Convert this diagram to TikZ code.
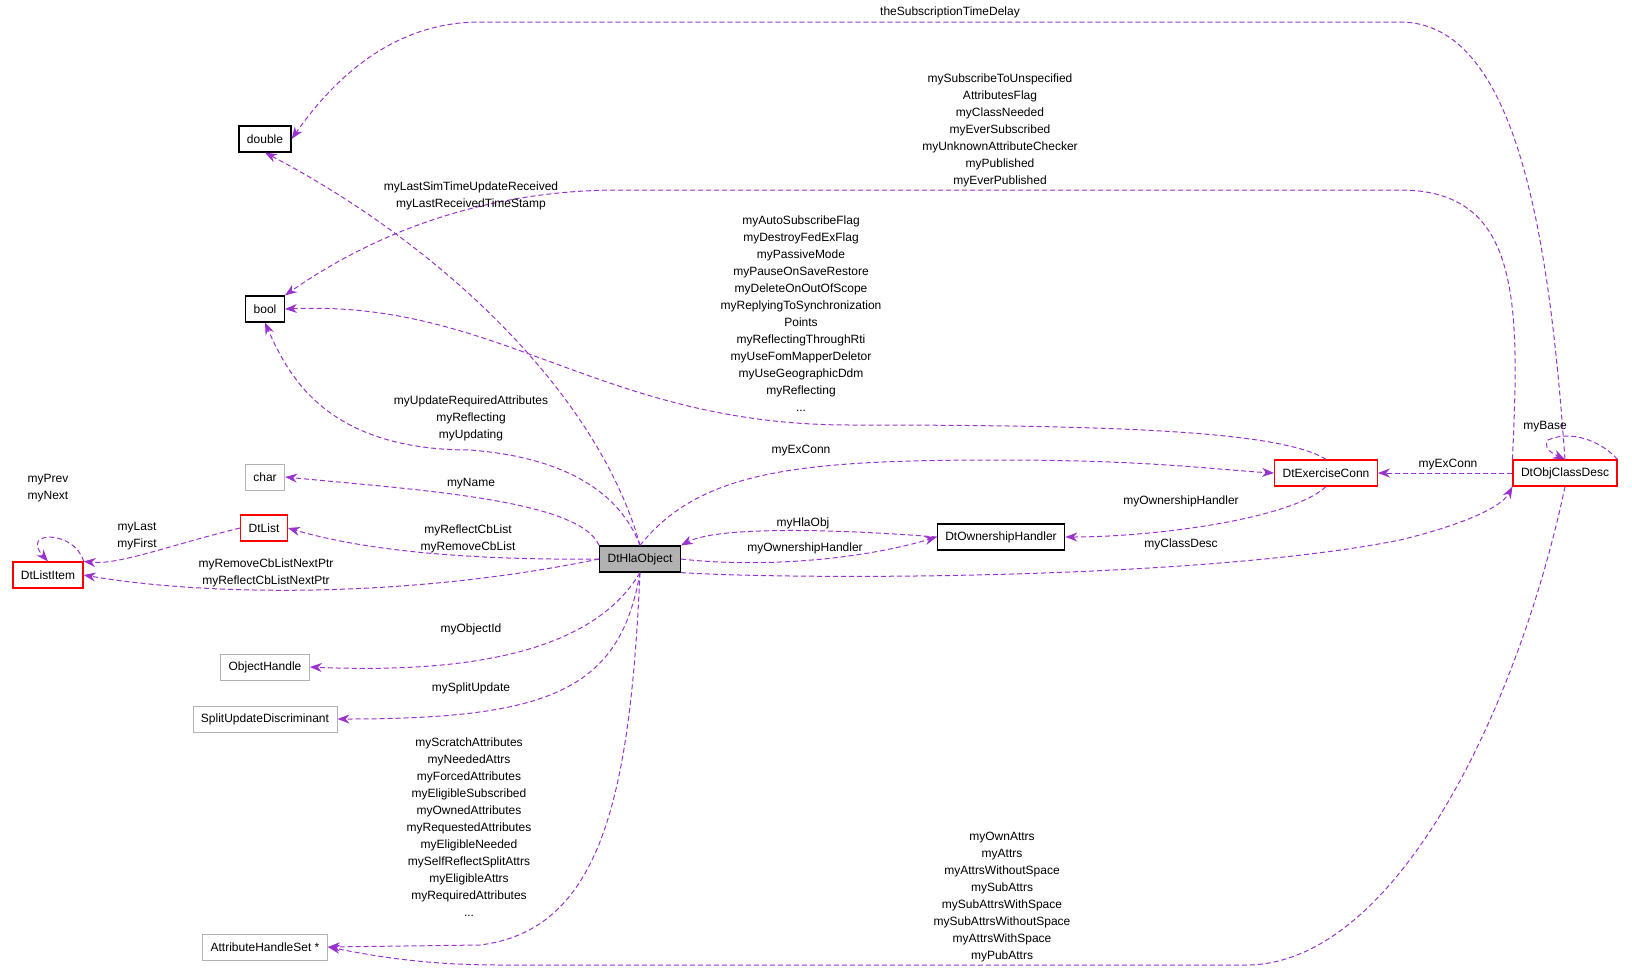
\documentclass[tikz,border=0pt]{standalone}
\usepackage{fontspec}
\setmainfont{Liberation Sans}
\usepackage{xcolor}
\usetikzlibrary{arrows.meta,positioning,calc}
\definecolor{edgepurple}{HTML}{9A32CD}
\tikzset{
  cls/.style={draw=black, line width=1.2pt, inner xsep=8pt, inner ysep=3pt, minimum height=26pt, font=\fontsize{12}{14}\selectfont},
  ext/.style={cls, draw=gray!60, line width=0.9pt},
  redcls/.style={cls, draw=red},
  rel/.style={draw=edgepurple, line width=1pt, dash pattern=on 5pt off 3pt, -{Stealth[length=12pt,width=9pt]}},
  lab/.style={align=center, font=\fontsize{12}{17}\selectfont}
}
\begin{document}
\begin{tikzpicture}[x=1pt,y=-1pt]
    \useasboundingbox (0,0) rectangle (1632,972);
    % classes
    \node[cls] (dbl) at (265,139) {double};
    \node[cls] (bool) at (265,309) {bool};
    \node[ext] (chr) at (265,477) {char};
    \node[redcls] (list) at (264,528) {DtList};
    \node[redcls] (item) at (48,575) {DtListItem};
    \node[ext] (ohdl) at (265,667) {ObjectHandle};
    \node[ext] (sud) at (265,719) {SplitUpdateDiscriminant};
    \node[ext] (ahs) at (265,947) {AttributeHandleSet *};
    \node[cls, fill=gray!60] (obj) at (640,559) {DtHlaObject};
    \node[cls] (own) at (1001,537) {DtOwnershipHandler};
    \node[redcls] (exc) at (1326,473) {DtExerciseConn};
    \node[redcls] (desc) at (1565,473) {DtObjClassDesc};

    % relations
    \draw[rel] (desc.north) .. controls (1550,250) and (1520,22) .. (1400,22) -- (480,22)
        .. controls (400,22) and (340,70) .. (dbl.east);
    \draw[rel] (desc.north west) .. controls (1520,300) and (1520,190) .. (1400,190) -- (620,190)
        .. controls (460,190) and (350,250) .. (bool.north east);
    \draw[rel] (obj.north) .. controls (600,400) and (450,250) .. (dbl.south);
    \draw[rel] (exc.north) .. controls (1280,430) and (1100,425) .. (850,425)
        .. controls (600,425) and (500,300) .. (bool.east);
    \draw[rel] (obj.north) .. controls (630,520) and (600,460) .. (470,450)
        .. controls (330,450) and (290,380) .. (bool.south);
    \draw[rel] (obj.north west) .. controls (580,500) and (420,490) .. (chr.east);
    \draw[rel] (obj.west) .. controls (500,560) and (380,555) .. (list.east);
    \draw[rel] (obj.west) .. controls (400,600) and (200,595) .. (item.east);
    \draw[rel] (list.west) .. controls (170,545) and (120,565) .. (item.north east);
    \draw[rel] (item.north east) .. controls (75,530) and (20,530) .. (item.north);
    \draw[rel] (obj.south) .. controls (600,640) and (500,675) .. (ohdl.east);
    \draw[rel] (obj.south) .. controls (620,690) and (550,719) .. (sud.east);
    \draw[rel] (obj.south) .. controls (630,800) and (600,930) .. (480,945) -- (ahs.east);
    \draw[rel] (desc.south) .. controls (1520,700) and (1400,960) .. (1250,965) -- (500,965)
        .. controls (420,965) and (370,955) .. (ahs.east);
    \draw[rel] (obj.north) .. controls (700,470) and (800,460) .. (1000,460)
        .. controls (1150,460) and (1220,470) .. (exc.west);
    \draw[rel] (exc.south) .. controls (1290,520) and (1150,537) .. (own.east);
    \draw[rel] (own.west) .. controls (850,530) and (720,525) .. (obj.north east);
    \draw[rel] (obj.east) .. controls (760,568) and (860,560) .. (own.west);
    \draw[rel] (obj.south east) .. controls (800,580) and (1200,580) .. (1400,540)
        .. controls (1450,528) and (1500,510) .. (desc.south west);
    \draw[rel] (desc.west) -- (exc.east);
    \draw[rel] (desc.north east) .. controls (1600,440) and (1570,430) .. (1548,440)
        .. controls (1545,445) and (1545,450) .. (desc.north);

    % labels
    \node[lab] at (950,12) {theSubscriptionTimeDelay};
    \node[lab] at (1000,130) {mySubscribeToUnspecified\\AttributesFlag\\myClassNeeded\\myEverSubscribed\\myUnknownAttributeChecker\\myPublished\\myEverPublished};
    \node[lab] at (471,196) {myLastSimTimeUpdateReceived\\myLastReceivedTimeStamp};
    \node[lab] at (801,314) {myAutoSubscribeFlag\\myDestroyFedExFlag\\myPassiveMode\\myPauseOnSaveRestore\\myDeleteOnOutOfScope\\myReplyingToSynchronization\\Points\\myReflectingThroughRti\\myUseFomMapperDeletor\\myUseGeographicDdm\\myReflecting\\...};
    \node[lab] at (471,418) {myUpdateRequiredAttributes\\myReflecting\\myUpdating};
    \node[lab] at (471,484) {myName};
    \node[lab] at (468,539) {myReflectCbList\\myRemoveCbList};
    \node[lab] at (266,573) {myRemoveCbListNextPtr\\myReflectCbListNextPtr};
    \node[lab] at (137,536) {myLast\\myFirst};
    \node[lab] at (48,488) {myPrev\\myNext};
    \node[lab] at (471,629) {myObjectId};
    \node[lab] at (471,688) {mySplitUpdate};
    \node[lab] at (469,827) {myScratchAttributes\\myNeededAttrs\\myForcedAttributes\\myEligibleSubscribed\\myOwnedAttributes\\myRequestedAttributes\\myEligibleNeeded\\mySelfReflectSplitAttrs\\myEligibleAttrs\\myRequiredAttributes\\...};
    \node[lab] at (1002,897) {myOwnAttrs\\myAttrs\\myAttrsWithoutSpace\\mySubAttrs\\mySubAttrsWithSpace\\mySubAttrsWithoutSpace\\myAttrsWithSpace\\myPubAttrs};
    \node[lab] at (801,451) {myExConn};
    \node[lab] at (1181,501) {myOwnershipHandler};
    \node[lab] at (803,523) {myHlaObj};
    \node[lab] at (805,548) {myOwnershipHandler};
    \node[lab] at (1181,544) {myClassDesc};
    \node[lab] at (1448,465) {myExConn};
    \node[lab] at (1545,427) {myBase};
\end{tikzpicture}
\end{document}
